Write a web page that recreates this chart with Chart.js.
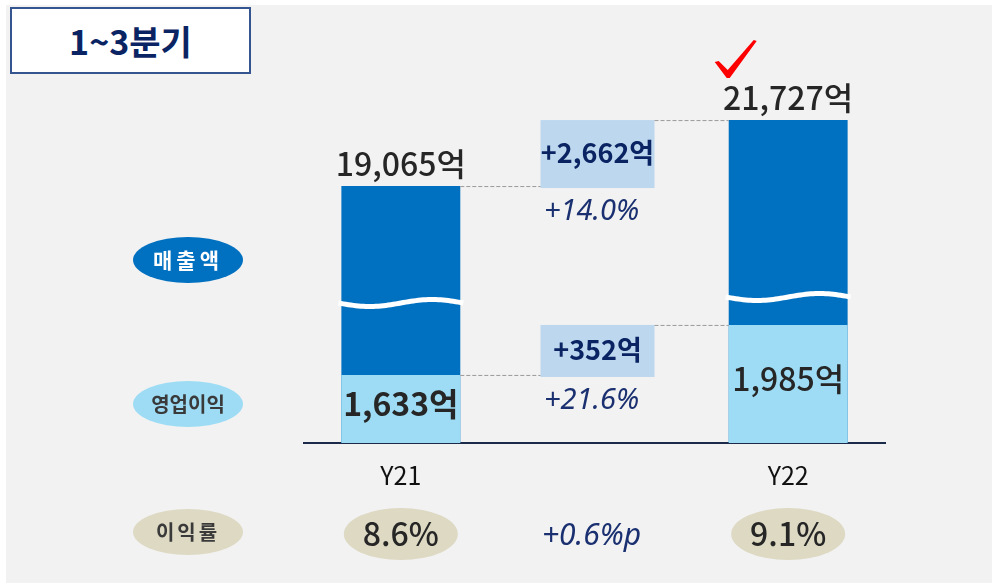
<!DOCTYPE html>
<html lang="ko">
<head>
<meta charset="utf-8">
<script src="https://cdn.jsdelivr.net/npm/chart.js@4.4.0/dist/chart.umd.min.js"></script>
<style>
  html, body { margin: 0; padding: 0; background: #ffffff; }
  #wrap { position: relative; width: 992px; height: 583px; }
  #title {
    position: absolute; left: 10px; top: 7px; width: 237px; height: 63px;
    border: 2px solid #34558f; background: #ffffff; color: #0a2463;
    font: bold 34px 'Noto Sans CJK KR', sans-serif;
    display: flex; align-items: center; justify-content: center;
  }
</style>
</head>
<body>
<div id="wrap">
  <canvas id="chart" width="992" height="583"></canvas>
  <div id="title">1~3분기</div>
</div>
<script>
// values (억원)
const categories = ['Y21', 'Y22'];
const revenue = [19065, 21727];
const opProfit = [1633, 1985];
const growthPct = [14.0, 21.6];     // 매출액, 영업이익 증가율
const marginPct = [8.6, 9.1];
const marginChange = 0.6;

const KR = "'Noto Sans CJK KR', 'Noto Sans', sans-serif";
const IT = "'Noto Sans', 'Open Sans', sans-serif";
const fmt = v => v.toLocaleString('en-US');

// x axis has an empty middle slot for the change boxes
const xLabels = [categories[0], '', categories[1]];
const gap = arr => [arr[0], null, arr[1]];

function ellipse(ctx, x, y, rx, ry, fill) {
  ctx.beginPath();
  ctx.ellipse(x, y, rx, ry, 0, 0, Math.PI * 2);
  ctx.fillStyle = fill;
  ctx.fill();
}

function text(ctx, str, x, y, font, color, spacing) {
  ctx.font = font;
  ctx.fillStyle = color;
  ctx.textAlign = 'center';
  ctx.textBaseline = 'middle';
  if (spacing) ctx.letterSpacing = spacing + 'px';
  ctx.fillText(str, x, y);
  ctx.letterSpacing = '0px';
}

const decor = {
  id: 'decor',
  beforeDraw(chart) {
    const ctx = chart.ctx;
    ctx.save();
    ctx.fillStyle = '#f2f2f2';
    ctx.fillRect(6, 5, chart.width - 6, chart.height - 5);
    ctx.restore();
  },
  afterDatasetsDraw(chart) {
    const ctx = chart.ctx;
    const op = chart.getDatasetMeta(0).data;
    const rev = chart.getDatasetMeta(1).data;
    const bottom = chart.chartArea.bottom;
    const a = 0, b = 2;
    const midX = chart.scales.x.getPixelForValue(1) + 3;
    ctx.save();

    // wave breaks in the revenue bars
    const waveY = [303, 297];
    [a, b].forEach((i, k) => {
      const bar = rev[i];
      const x0 = bar.x - bar.width / 2 - 3, w = bar.width + 6;
      ctx.beginPath();
      for (let t = 0; t <= 1.0001; t += 0.02) {
        const px = x0 + t * w;
        const py = waveY[k] + 3.5 * Math.sin(t * Math.PI * 2);
        t === 0 ? ctx.moveTo(px, py) : ctx.lineTo(px, py);
      }
      ctx.strokeStyle = '#ffffff';
      ctx.lineWidth = 5;
      ctx.stroke();
    });

    // change boxes + dashed connectors
    const boxW = 114;
    const pairs = [
      { bars: rev, diff: revenue[1] - revenue[0], pct: growthPct[0] },
      { bars: op, diff: opProfit[1] - opProfit[0], pct: growthPct[1] }
    ];
    pairs.forEach(p => {
      const yA = p.bars[a].y, yB = p.bars[b].y;
      const left = midX - boxW / 2, right = midX + boxW / 2;
      ctx.fillStyle = '#bdd7ee';
      ctx.fillRect(left, yB, boxW, yA + 2 - yB);
      ctx.setLineDash([4, 2]);
      ctx.strokeStyle = '#9a9a9a';
      ctx.lineWidth = 1;
      ctx.beginPath();
      ctx.moveTo(p.bars[a].x + p.bars[a].width / 2, yA + 0.5);
      ctx.lineTo(left, yA + 0.5);
      ctx.moveTo(right, yB + 0.5);
      ctx.lineTo(p.bars[b].x - p.bars[b].width / 2, yB + 0.5);
      ctx.stroke();
      ctx.setLineDash([]);
      text(ctx, '+' + fmt(p.diff) + '억', midX, (yA + yB) / 2, 'bold 27px ' + KR, '#0a2463');
      text(ctx, '+' + p.pct.toFixed(1) + '%', midX - 6, yA + 26, 'italic 29px ' + IT, '#1a3070');
    });

    // value labels
    [a, b].forEach((i, k) => {
      const r = rev[i], o = op[i];
      text(ctx, fmt(revenue[k]) + '억', r.x, r.y - 22, '500 32px ' + KR, '#262626');
      text(ctx, fmt(opProfit[k]) + '억', o.x, (o.y + bottom) / 2 - 5,
        (k === 0 ? 'bold ' : '500 ') + '32px ' + KR, '#262626');
      // margin ovals
      ellipse(ctx, r.x, 534, 57, 26, '#ddd9c3');
      text(ctx, marginPct[k].toFixed(1) + '%', r.x, 534, '500 32px ' + KR, '#262626');
    });
    text(ctx, '+' + marginChange.toFixed(1) + '%p', midX - 6, 536, 'italic 30px ' + IT, '#1a3070');

    // left-side legend ovals
    ellipse(ctx, 188, 260, 55, 23, '#0070c0');
    text(ctx, '매출액', 188, 260, 'bold 21px ' + KR, '#ffffff', 4);
    ellipse(ctx, 188, 404, 55, 23, '#9ddcf4');
    text(ctx, '영업이익', 188, 404, 'bold 20px ' + KR, '#3a3a3a');
    ellipse(ctx, 188, 532, 55, 23, '#ddd9c3');
    text(ctx, '이익률', 188, 532, 'bold 20px ' + KR, '#3a3a3a', 3);

    // red check mark above Y22
    const cb = rev[b];
    const cx = cb.x - cb.width / 2, cy = cb.y;
    ctx.beginPath();
    ctx.moveTo(cx - 14, cy - 58);
    ctx.lineTo(cx - 10, cy - 59);
    ctx.lineTo(cx - 1, cy - 50);
    ctx.lineTo(cx + 25, cy - 80);
    ctx.lineTo(cx + 28, cy - 79);
    ctx.lineTo(cx + 1, cy - 42);
    ctx.lineTo(cx - 2, cy - 42);
    ctx.closePath();
    ctx.fillStyle = '#ff0000';
    ctx.fill();

    ctx.restore();
  }
};

new Chart(document.getElementById('chart'), {
  type: 'bar',
  data: {
    labels: xLabels,
    datasets: [
      {
        label: '영업이익', data: gap(opProfit), yAxisID: 'yOp',
        backgroundColor: '#9ddcf4', grouped: false,
        barPercentage: 0.614, categoryPercentage: 1
      },
      {
        label: '매출액', data: gap(revenue), yAxisID: 'yRev',
        backgroundColor: '#0070c0', grouped: false,
        barPercentage: 0.614, categoryPercentage: 1
      }
    ]
  },
  options: {
    responsive: false,
    animation: false,
    devicePixelRatio: 1,
    layout: { padding: { left: 304, right: 107, top: 60, bottom: 76 } },
    plugins: { legend: { display: false }, tooltip: { enabled: false } },
    scales: {
      x: {
        grid: { display: false, drawTicks: false },
        border: { display: true, color: '#1c2b4a', width: 2 },
        ticks: { color: '#111111', font: { family: KR, size: 25 }, padding: 17 }
      },
      // broken axes: each series starts from its own cut-off value
      yRev: { display: false, min: 8700, max: 24150 },
      yOp: { display: false, min: 1154, max: 3850 }
    }
  },
  plugins: [decor]
});
</script>
</body>
</html>
